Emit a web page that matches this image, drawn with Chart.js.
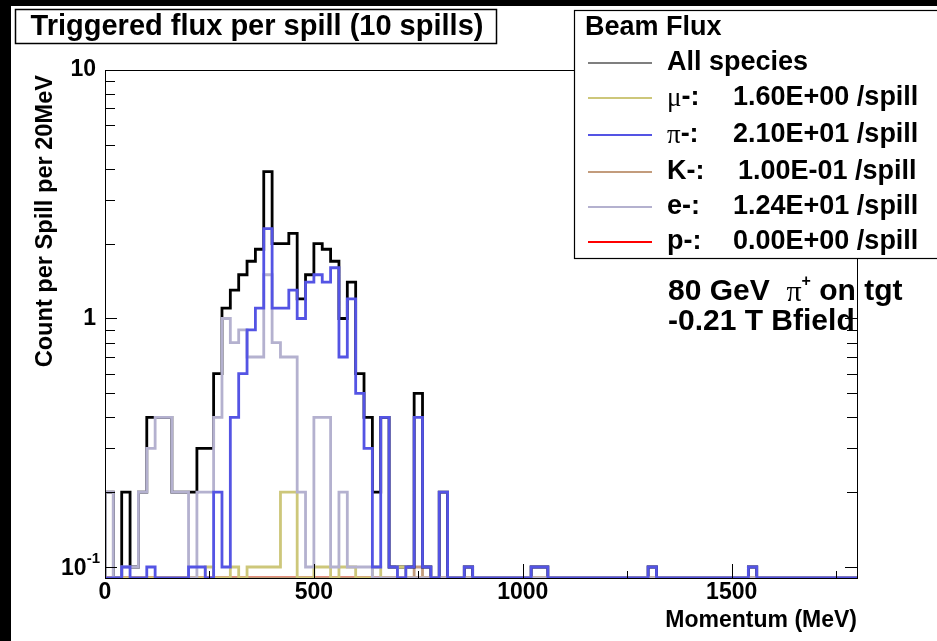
<!DOCTYPE html>
<html>
<head>
<meta charset="utf-8">
<script src="https://cdn.jsdelivr.net/npm/chart.js@4.4.1/dist/chart.umd.min.js"></script>
<style>
  html, body { margin: 0; padding: 0; background: #fff; overflow: hidden; }
  canvas { display: block; }
</style>
</head>
<body>
<canvas id="fluxChart" width="937" height="641"></canvas>
<script>
// momentum histogram: 90 bins of 20 MeV, 0 - 1800 MeV
const BIN_WIDTH = 20;
const N_BINS = 90;

// counts per spill per bin (10 spills -> steps of 0.1)
const allSpecies = [
  0.2, 0, 0.2, 0.1, 0.2, 0.4, 0.4, 0.4, 0.2, 0.2,
  0.2, 0.3, 0.3, 0.6, 1.1, 1.3, 1.5, 1.7, 1.9, 3.9,
  2.0, 2.0, 2.2, 1.2, 1.5, 2.0, 1.9, 1.7, 1.0, 1.4,
  0.6, 0.4, 0.2, 0.4, 0.1, 0.1, 0.1, 0.5, 0.1, 0,
  0.2, 0, 0, 0.1, 0, 0, 0, 0, 0, 0,
  0, 0.1, 0.1, 0, 0, 0, 0, 0, 0, 0,
  0, 0, 0, 0, 0, 0.1, 0, 0, 0, 0,
  0, 0, 0, 0, 0, 0, 0, 0.1, 0, 0,
  0, 0, 0, 0, 0, 0, 0, 0, 0, 0
];
const muMinus = [
  0, 0, 0, 0, 0, 0, 0, 0, 0, 0,
  0, 0, 0.1, 0, 0, 0.1, 0, 0.1, 0.1, 0.1,
  0.1, 0.2, 0.2, 0, 0, 0.1, 0.1, 0, 0.1, 0.1,
  0, 0, 0.1, 0, 0, 0.1, 0, 0, 0, 0,
  0, 0, 0, 0, 0, 0, 0, 0, 0, 0,
  0, 0, 0, 0, 0, 0, 0, 0, 0, 0,
  0, 0, 0, 0, 0, 0, 0, 0, 0, 0,
  0, 0, 0, 0, 0, 0, 0, 0, 0, 0,
  0, 0, 0, 0, 0, 0, 0, 0, 0, 0
];
const piMinus = [
  0, 0, 0.1, 0, 0, 0.1, 0, 0, 0, 0,
  0.1, 0.1, 0, 0.2, 0.1, 0.4, 0.6, 0.9, 1.1, 2.3,
  1.1, 1.1, 1.3, 1.0, 1.4, 1.5, 1.4, 1.6, 0.7, 1.2,
  0.5, 0.3, 0.1, 0.4, 0.1, 0, 0.1, 0.4, 0.1, 0,
  0.2, 0, 0, 0.1, 0, 0, 0, 0, 0, 0,
  0, 0.1, 0.1, 0, 0, 0, 0, 0, 0, 0,
  0, 0, 0, 0, 0, 0.1, 0, 0, 0, 0,
  0, 0, 0, 0, 0, 0, 0, 0.1, 0, 0,
  0, 0, 0, 0, 0, 0, 0, 0, 0, 0
];
const kMinus = [
  0, 0, 0, 0, 0, 0, 0, 0, 0, 0,
  0, 0, 0, 0, 0, 0, 0, 0, 0, 0,
  0, 0, 0, 0, 0, 0, 0, 0, 0, 0,
  0, 0, 0, 0, 0, 0, 0, 0.1, 0, 0,
  0, 0, 0, 0, 0, 0, 0, 0, 0, 0,
  0, 0, 0, 0, 0, 0, 0, 0, 0, 0,
  0, 0, 0, 0, 0, 0, 0, 0, 0, 0,
  0, 0, 0, 0, 0, 0, 0, 0, 0, 0,
  0, 0, 0, 0, 0, 0, 0, 0, 0, 0
];
const eMinus = [
  0.2, 0, 0.1, 0.1, 0.2, 0.3, 0.4, 0.4, 0.2, 0.2,
  0, 0.2, 0.2, 0.4, 1.0, 0.8, 0.9, 0.7, 0.7, 1.5,
  0.8, 0.7, 0.7, 0.2, 0.1, 0.4, 0.4, 0.1, 0.2, 0.1,
  0.1, 0.1, 0, 0, 0, 0, 0, 0, 0, 0,
  0, 0, 0, 0, 0, 0, 0, 0, 0, 0,
  0, 0, 0, 0, 0, 0, 0, 0, 0, 0,
  0, 0, 0, 0, 0, 0, 0, 0, 0, 0,
  0, 0, 0, 0, 0, 0, 0, 0, 0, 0,
  0, 0, 0, 0, 0, 0, 0, 0, 0, 0
];
const pMinus = [
  0, 0, 0, 0, 0, 0, 0, 0, 0, 0,
  0, 0, 0, 0, 0, 0, 0, 0, 0, 0,
  0, 0, 0, 0, 0, 0, 0, 0, 0, 0,
  0, 0, 0, 0, 0, 0, 0, 0, 0, 0,
  0, 0, 0, 0, 0, 0, 0, 0, 0, 0,
  0, 0, 0, 0, 0, 0, 0, 0, 0, 0,
  0, 0, 0, 0, 0, 0, 0, 0, 0, 0,
  0, 0, 0, 0, 0, 0, 0, 0, 0, 0,
  0, 0, 0, 0, 0, 0, 0, 0, 0, 0
];

const legendNames = ['All species', 'μ', 'π', 'K', 'e', 'p'];
const legendRates = ['', '1.60E+00 /spill', '2.10E+01 /spill', '1.00E-01 /spill', '1.24E+01 /spill', '0.00E+00 /spill'];
const xTickLabels = [0, 500, 1000, 1500];
const yDecades = [0.1, 1, 10];

const X_MAX = 1800;
const Y_MIN = 0.0903, Y_MAX = 10;

const SANS = '"Liberation Sans", Arial, Helvetica, sans-serif';
const SERIF = '"Liberation Serif", "DejaVu Serif", serif';

const colors = {
  all: '#000000',
  mu: '#cdc77a',
  pi: '#5454e4',
  K: '#c39c7c',
  e: '#b4b1cf',
  p: '#ff0000'
};

// ROOT draws empty bins on the bottom of a log frame
const toSteps = (vals) => {
  const pts = [{ x: 0, y: Y_MIN }];
  vals.forEach((v, i) => pts.push({ x: i * BIN_WIDTH, y: v > 0 ? v : Y_MIN }));
  const last = vals[vals.length - 1];
  pts.push({ x: N_BINS * BIN_WIDTH, y: last > 0 ? last : Y_MIN });
  return pts;
};

const histo = (label, vals, color, order) => ({
  label: label,
  data: toSteps(vals),
  borderColor: color,
  borderWidth: 2.8,
  stepped: 'before',
  pointRadius: 0,
  fill: false,
  order: order
});

function txt(ctx, s, x, y, font, align) {
  ctx.font = font;
  ctx.textAlign = align || 'left';
  ctx.textBaseline = 'middle';
  ctx.fillText(s, x, y);
  return ctx.measureText(s).width;
}

const rootStyle = {
  id: 'rootStyle',
  beforeDraw(chart) {
    const ctx = chart.ctx;
    ctx.save();
    ctx.fillStyle = '#fff';
    ctx.fillRect(0, 0, chart.width, chart.height);
    ctx.restore();
  },
  afterDatasetsDraw(chart) {
    const { ctx, chartArea: a, scales: { x, y } } = chart;
    ctx.save();
    ctx.fillStyle = '#000';

    // beam info text (frame is drawn over it, as in the original)
    const big = 'bold 30px ' + SANS;
    let cx = 668;
    cx += txt(ctx, '80 GeV  ', cx, 292, big);
    cx += txt(ctx, 'π', cx, 293, '30px ' + SERIF);
    cx += txt(ctx, '+', cx, 282, 'bold 16px ' + SANS);
    txt(ctx, ' on tgt', cx, 292, big);
    txt(ctx, '-0.21 T Bfield', 668, 322, big);

    // frame
    ctx.strokeStyle = '#000';
    ctx.lineWidth = 1;
    ctx.strokeRect(Math.round(a.left) + 0.5, Math.round(a.top) + 0.5,
      Math.round(a.right - a.left), Math.round(a.bottom - a.top));

    // y ticks, both sides
    ctx.beginPath();
    yDecades.forEach(d => {
      for (let m = 1; m <= 9; m++) {
        const v = d * m;
        if (v < Y_MIN || v > Y_MAX * 1.0001) continue;
        const py = Math.round(y.getPixelForValue(v)) + 0.5;
        const len = m === 1 ? 12 : 10;
        ctx.moveTo(a.left, py); ctx.lineTo(a.left + len, py);
        ctx.moveTo(a.right, py); ctx.lineTo(a.right - len, py);
      }
    });
    // x ticks every 250 MeV
    for (let v = 0; v <= X_MAX; v += 250) {
      const px = Math.round(x.getPixelForValue(v)) + 0.5;
      const len = v % 500 === 0 ? 14 : 7;
      ctx.moveTo(px, a.bottom); ctx.lineTo(px, a.bottom - len);
    }
    ctx.stroke();

    // tick labels
    const lab = 'bold 23px ' + SANS;
    xTickLabels.forEach(v => txt(ctx, String(v), x.getPixelForValue(v), 593, lab, 'center'));
    yDecades.forEach(d => {
      const py = y.getPixelForValue(d);
      if (d === 0.1) {
        const w = txt(ctx, '-1', 100, py - 8, 'bold 15px ' + SANS, 'right');
        txt(ctx, '10', 100 - w, py + 2, lab, 'right');
      } else {
        txt(ctx, String(d), 96, py, lab, 'right');
      }
    });

    // axis titles
    txt(ctx, 'Momentum (MeV)', a.right, 621, 'bold 23px ' + SANS, 'right');
    ctx.save();
    ctx.translate(45, 75);
    ctx.rotate(-Math.PI / 2);
    txt(ctx, 'Count per Spill per 20MeV', 0, 0, 'bold 23.6px ' + SANS, 'right');
    ctx.restore();

    // title box
    ctx.fillStyle = '#fff';
    ctx.fillRect(15, 9, 482, 35);
    ctx.lineWidth = 1.5;
    ctx.strokeRect(15.5, 9.5, 481, 34);
    ctx.fillStyle = '#000';
    txt(ctx, 'Triggered flux per spill (10 spills)', 257, 27, 'bold 29px ' + SANS, 'center');

    // legend box
    ctx.fillStyle = '#fff';
    ctx.fillRect(574, 10, 380, 249);
    ctx.lineWidth = 1.2;
    ctx.strokeRect(574.5, 10.5, 380, 248);
    ctx.fillStyle = '#000';
    const legFont = 'bold 27px ' + SANS;
    txt(ctx, 'Beam Flux', 585, 28, legFont);
    const legColors = [colors.all, colors.mu, colors.pi, colors.K, colors.e, colors.p];
    const rowY = [63, 98, 135, 172, 207, 242];
    legendNames.forEach((name, i) => {
      const ry = rowY[i];
      ctx.strokeStyle = legColors[i];
      ctx.lineWidth = i === 0 ? 1.2 : 2.2;
      ctx.beginPath();
      ctx.moveTo(588, ry); ctx.lineTo(652, ry);
      ctx.stroke();
      ctx.fillStyle = '#000';
      if (i === 0) {
        txt(ctx, name, 667, ry, legFont);
      } else {
        let lx = 667;
        if (name === 'μ' || name === 'π') {
          lx += txt(ctx, name, lx, ry + 1, '27px ' + SERIF);
        } else {
          lx += txt(ctx, name, lx, ry, legFont);
        }
        txt(ctx, '-:', lx, ry, legFont);
        txt(ctx, legendRates[i], name === 'K' ? 738 : 733, ry, legFont);
      }
    });

    // dark canvas border strips of the original picture
    ctx.fillStyle = '#000';
    ctx.fillRect(0, 0, chart.width, 6);
    ctx.fillRect(0, 0, 11, chart.height);
    ctx.restore();
  }
};

new Chart(document.getElementById('fluxChart'), {
  type: 'line',
  data: {
    datasets: [
      histo('All species', allSpecies, colors.all, 3),
      histo('mu-', muMinus, colors.mu, 2),
      histo('pi-', piMinus, colors.pi, 0),
      histo('K-', kMinus, colors.K, 4),
      histo('e-', eMinus, colors.e, 1),
      histo('p-', pMinus, colors.p, 5)
    ]
  },
  options: {
    responsive: false,
    animation: false,
    layout: { padding: { left: 105, right: 80, top: 70, bottom: 63 } },
    plugins: { legend: { display: false }, tooltip: { enabled: false } },
    scales: {
      x: { type: 'linear', min: 0, max: X_MAX, display: false },
      y: { type: 'logarithmic', min: Y_MIN, max: Y_MAX, display: false }
    }
  },
  plugins: [rootStyle]
});
</script>
</body>
</html>
